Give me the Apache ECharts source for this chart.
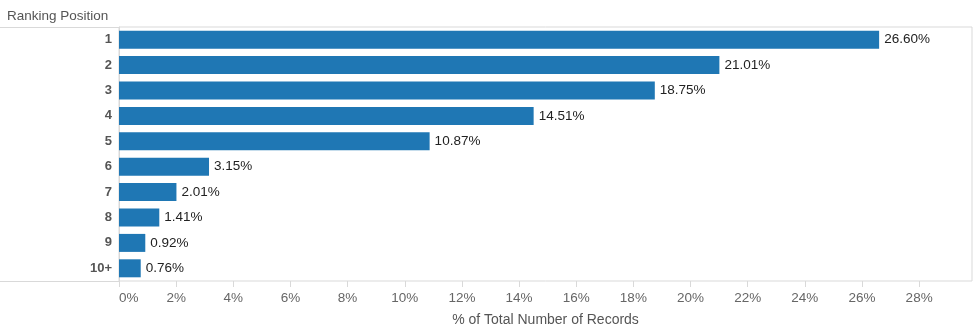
<!DOCTYPE html>
<html>
<head>
<meta charset="utf-8">
<script src="https://cdn.jsdelivr.net/npm/echarts@6/dist/echarts.min.js"></script>
<style>
  html, body { margin: 0; padding: 0; background: #fff; }
  #chart { width: 975px; height: 333px; }
</style>
</head>
<body>
<div id="chart"></div>
<script>
// Share of records by ranking position
const positions = ['1', '2', '3', '4', '5', '6', '7', '8', '9', '10+'];
const shares = [26.60, 21.01, 18.75, 14.51, 10.87, 3.15, 2.01, 1.41, 0.92, 0.76];

const chart = echarts.init(document.getElementById('chart'));
const lineColor = '#d9d9d9';
const font = 'Arial, "Liberation Sans", sans-serif';

chart.setOption({
  animation: false,
  grid: {
    left: 119, right: 3, top: 27, bottom: 52,
    show: true, borderColor: lineColor, borderWidth: 1
  },
  graphic: [
    { type: 'text', left: 7, top: 9,
      style: { text: 'Ranking Position', fill: '#555', font: '13.5px ' + font } },
    { type: 'line', shape: { x1: 0, y1: 27.5, x2: 119, y2: 27.5 },
      style: { stroke: lineColor, lineWidth: 1 } },
    { type: 'line', shape: { x1: 0, y1: 281.5, x2: 119, y2: 281.5 },
      style: { stroke: lineColor, lineWidth: 1 } }
  ],
  xAxis: {
    type: 'value',
    min: 0, max: 29.85, interval: 2,
    splitLine: { show: false },
    axisLine: { show: false },
    axisTick: { show: true, length: 6, lineStyle: { color: lineColor } },
    axisLabel: {
      showMaxLabel: false,
      alignMinLabel: 'left',
      color: '#666', fontSize: 13.5, fontFamily: font, margin: 10,
      formatter: v => v + '%'
    },
    name: '% of Total Number of Records',
    nameLocation: 'middle',
    nameGap: 32,
    nameTextStyle: { color: '#555', fontSize: 14, fontFamily: font }
  },
  yAxis: {
    type: 'category',
    data: positions,
    inverse: true,
    axisLine: { show: true, lineStyle: { color: lineColor } },
    axisTick: { show: false },
    axisLabel: { color: '#555', fontSize: 13, fontWeight: 'bold', fontFamily: font, margin: 7 }
  },
  series: [{
    type: 'bar',
    data: shares,
    barWidth: 18,
    itemStyle: { color: '#1f77b4' },
    label: {
      show: true, position: 'right', distance: 5,
      color: '#222', fontSize: 13.5, fontFamily: font,
      formatter: p => p.value.toFixed(2) + '%'
    }
  }]
});
</script>
</body>
</html>
